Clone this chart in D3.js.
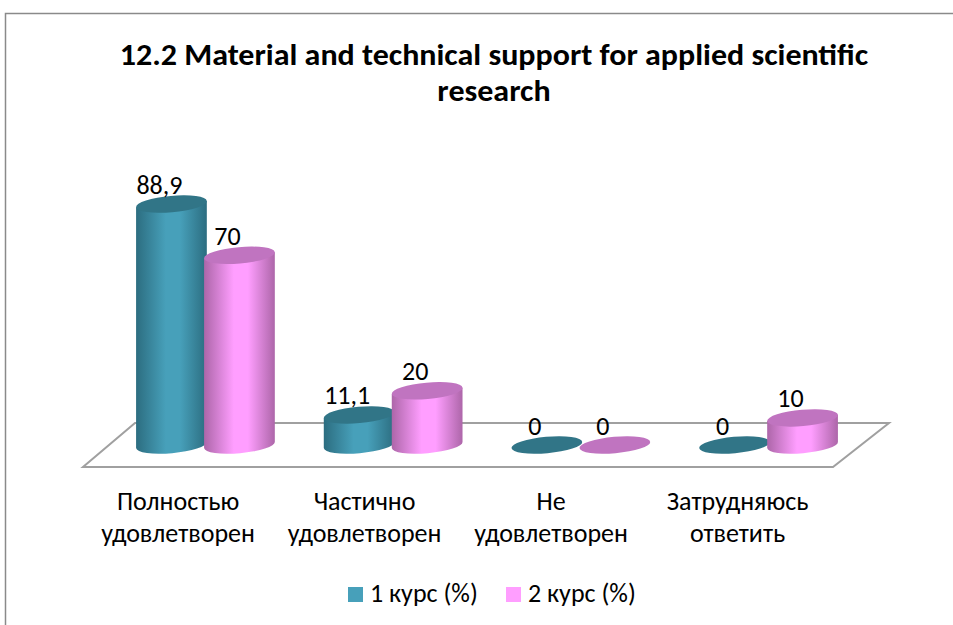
<!DOCTYPE html>
<html><head><meta charset="utf-8">
<script src="https://cdn.jsdelivr.net/npm/d3@7"></script>
<style>html,body{margin:0;background:#fff}svg{display:block}text{font-family:Carlito,Lato,"Open Sans","Noto Sans",sans-serif;fill:#000}</style>
</head><body><svg id="c" width="953" height="625"></svg>
<script>
const categories=[["Полностью","удовлетворен"],["Частично","удовлетворен"],["Не","удовлетворен"],["Затрудняюсь","ответить"]];
const categoryKeys=["full","part","none","hard"];
const seriesNames=["1 курс (%)","2 курс (%)"];
const course1=[88.9,11.1,0,0];
const course2=[70,20,0,10];
const labels1=["88,9","11,1","0","0"];
const labels2=["70","20","0","10"];
const titleLines=["12.2 Material and technical support for applied scientific","research"];
const pal=[{edge:"#2c6d80",mid:"#47a0ba",top:"#317587"},{edge:"#ad66a9",mid:"#ff9eff",top:"#c074c0"}];

const svg=d3.select("#c");
const x=d3.scaleBand().domain(categoryKeys).range([111.6,862.4]);
const xLabel=d3.scaleBand().domain(categoryKeys).range([84.8,830.8]);
const xs=d3.scaleBand().domain([0,1]).range([-68,68]);
const y=d3.scaleLinear().domain([0,100]).range([445,174]);
const rx=35.5,ry=8.2,rot=-5,a=rot*Math.PI/180,dx=rx*Math.cos(a),dy=rx*Math.sin(a);
const textSize=26;

const defs=svg.append("defs");
pal.forEach((p,i)=>{
  const g=defs.append("linearGradient").attr("id","g"+i);
  [[0,p.edge],[.42,p.mid],[.62,p.mid],[1,p.edge]].forEach(s=>g.append("stop").attr("offset",s[0]).attr("stop-color",s[1]));
});

svg.append("path").attr("d","M5.5 625V13.5H953").attr("fill","none").attr("stroke","#8a8a8a").attr("stroke-width",1.5);
svg.append("path").attr("d","M135 423H889L833 467H83Z").attr("fill","#fff").attr("stroke","#a0a0a0").attr("stroke-width",2);

svg.append("g").attr("transform","translate(494,0) scale(1.085,1)").selectAll("text").data(titleLines).join("text")
  .attr("x",0).attr("y",(d,i)=>65+i*36).attr("text-anchor","middle")
  .attr("font-size",29.5).attr("font-weight",700).text(d=>d);

[course1,course2].forEach((vals,s)=>{
  const g=svg.append("g");
  categoryKeys.forEach((k,i)=>{
    const cx=x(k)+x.bandwidth()/2+xs(s)+xs.bandwidth()/2;
    const top=y(vals[i]),bot=y(0);
    if(vals[i]>0){
      g.append("path").attr("fill",`url(#g${s})`)
       .attr("d",`M${cx-dx} ${top-dy}L${cx-dx} ${bot-dy}A${rx} ${ry} ${rot} 0 0 ${cx+dx} ${bot+dy}L${cx+dx} ${top+dy}Z`);
    }
    g.append("ellipse").attr("cx",cx).attr("cy",top).attr("rx",rx).attr("ry",ry)
      .attr("transform",`rotate(${rot} ${cx} ${top})`).attr("fill",pal[s].top);
  });
});
[labels1,labels2].forEach((lab,s)=>{
  const vals=s?course2:course1;
  svg.append("g").selectAll("text").data(lab).join("text")
   .attr("x",(d,i)=>x(categoryKeys[i])+x.bandwidth()/2+xs(s)+xs.bandwidth()/2-12)
   .attr("y",(d,i)=>y(vals[i])-10.5).attr("text-anchor","middle").attr("font-size",textSize).text(d=>d);
});
categories.forEach((c,i)=>{
  const lxc=xLabel(categoryKeys[i])+xLabel.bandwidth()/2;
  svg.append("text").attr("text-anchor","middle")
   .attr("font-size",textSize).selectAll("tspan").data(c).join("tspan")
   .attr("x",lxc).attr("y",(d,j)=>510+j*32).text(d=>d);
});
const lx=[348,506];
seriesNames.forEach((n,i)=>{
  svg.append("rect").attr("x",lx[i]).attr("y",587).attr("width",15).attr("height",15).attr("fill",pal[i].mid);
  svg.append("text").attr("x",lx[i]+22).attr("y",602).attr("font-size",textSize).text(n);
});
</script></body></html>
